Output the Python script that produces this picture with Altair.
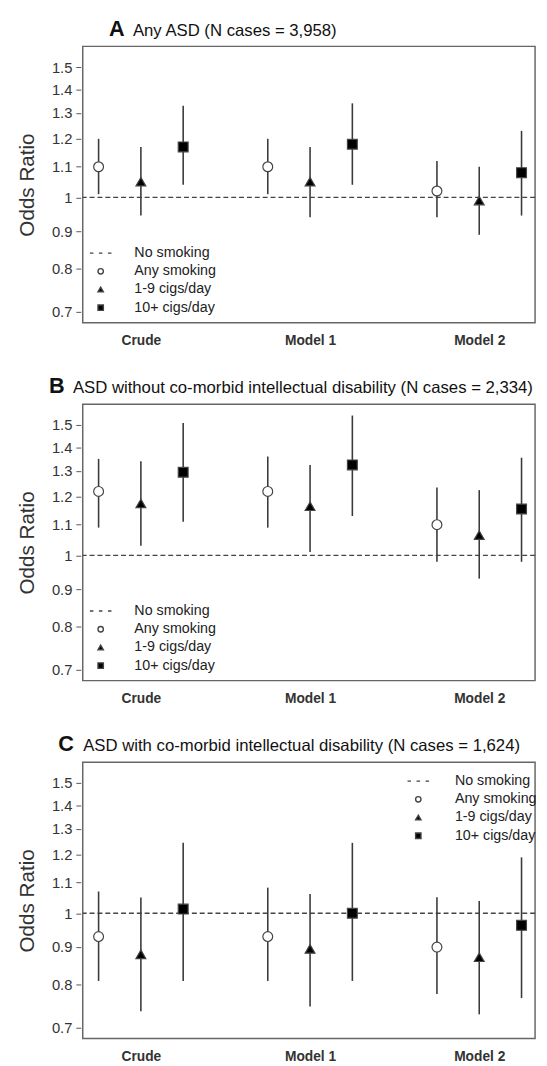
import altair as alt
import pandas as pd

models = ["Crude", "Model 1", "Model 2"]
series = ["No smoking", "Any smoking", "1-9 cigs/day", "10+ cigs/day"]
exposures = series[1:]
y_ticks = [0.7, 0.8, 0.9, 1.0, 1.1, 1.2, 1.3, 1.4, 1.5]
no_smoking_or = [1.0]

letters = ["A", "B", "C"]
titles = [
    "Any ASD (N cases = 3,958)",
    "ASD without co-morbid intellectual disability (N cases = 2,334)",
    "ASD with co-morbid intellectual disability (N cases = 1,624)",
]

# rows = models (Crude, Model 1, Model 2); columns = Any smoking, 1-9, 10+
a_or = [[1.10, 1.05, 1.17], [1.10, 1.05, 1.18], [1.02, 0.99, 1.08]]
a_lo = [[1.01, 0.945, 1.04], [1.01, 0.94, 1.04], [0.94, 0.89, 0.945]]
a_hi = [[1.20, 1.17, 1.33], [1.20, 1.17, 1.34], [1.12, 1.10, 1.23]]

b_or = [[1.22, 1.175, 1.295], [1.22, 1.165, 1.325], [1.10, 1.065, 1.155]]
b_lo = [[1.09, 1.03, 1.11], [1.09, 1.01, 1.13], [0.98, 0.93, 0.98]]
b_hi = [[1.35, 1.34, 1.51], [1.36, 1.325, 1.545], [1.235, 1.225, 1.355]]

c_or = [[0.93, 0.88, 1.013], [0.93, 0.895, 1.0], [0.90, 0.872, 0.963]]
c_lo = [[0.81, 0.737, 0.81], [0.81, 0.748, 0.81], [0.778, 0.73, 0.768]]
c_hi = [[1.07, 1.05, 1.245], [1.083, 1.062, 1.245], [1.051, 1.039, 1.19]]

FONT = "Liberation Sans"
W, H = 460, 281
GROUP_STEP = 4

x_scale = alt.Scale(domain=[-1.375, 9.32], nice=False, zero=False)
y_scale = alt.Scale(type="log", domain=[0.677, 1.6], nice=False, zero=False)
label_expr = "[" + ",".join("'%s'" % m for m in models) + "][round(datum.value/%d)]" % GROUP_STEP

shape_range = ["M-4,0H-2.7M-0.65,0H0.65M2.7,0H4", "circle", "triangle-up", "square"]
fill_range = ["transparent", "white", "black", "black"]


def table(or_, lo, hi):
    rows = []
    for mi, m in enumerate(models):
        for si, s in enumerate(exposures):
            rows.append({"model": m, "series": s, "pos": GROUP_STEP * mi + (si - 1),
                         "or": or_[mi][si], "lo": lo[mi][si], "hi": hi[mi][si]})
    return pd.DataFrame(rows)


def panel(letter, title, or_, lo, hi, letter_dx, title_dx, leg):
    df = table(or_, lo, hi)
    x = alt.X("pos:Q", scale=x_scale,
              axis=alt.Axis(values=[GROUP_STEP * i for i in range(len(models))],
                            labelExpr=label_expr, ticks=False, domain=False, grid=False,
                            labelFontWeight="bold", labelFontSize=14, labelPadding=11,
                            labelColor="#333", title=None))
    y_axis = alt.Axis(values=y_ticks, format=".1~f", grid=False, domain=False,
                      tickSize=5, tickColor="#555", offset=2, labelFontSize=15,
                      labelColor="#333", labelPadding=4, title="Odds Ratio",
                      titleFontSize=21, titleFontWeight="normal", titleColor="#333",
                      titlePadding=14)
    legend = alt.Legend(orient="none", legendX=leg[0], legendY=leg[1], title=None,
                        labelFontSize=14.5, labelColor="#222", labelOffset=leg[2],
                        symbolSize=30, rowPadding=3.5, padding=0, symbolStrokeWidth=1.4)

    ref = alt.Chart(pd.DataFrame({"ref": no_smoking_or})).mark_rule(
        strokeDash=[5, 3], color="#444", strokeWidth=1.3
    ).encode(y=alt.Y("ref:Q", scale=y_scale, axis=y_axis))

    bars = alt.Chart(df).mark_rule(color="#3a3a3a", strokeWidth=1.6).encode(
        x=x, y=alt.Y("lo:Q", scale=y_scale, axis=y_axis), y2="hi:Q")

    pts = alt.Chart(df).mark_point(size=100, opacity=1, stroke="#444", strokeWidth=1.2).encode(
        x=x,
        y=alt.Y("or:Q", scale=y_scale, axis=y_axis),
        shape=alt.Shape("series:N", scale=alt.Scale(domain=series, range=shape_range), legend=legend),
        fill=alt.Fill("series:N", scale=alt.Scale(domain=series, range=fill_range), legend=legend),
    )

    letter_txt = alt.Chart(pd.DataFrame({"t": [letter]})).mark_text(
        align="left", baseline="alphabetic", fontSize=22, fontWeight="bold", font=FONT, color="#111"
    ).encode(text="t:N", x=alt.value(letter_dx), y=alt.value(-11))
    title_txt = alt.Chart(pd.DataFrame({"t": [title]})).mark_text(
        align="left", baseline="alphabetic", fontSize=17, font=FONT, color="#111"
    ).encode(text="t:N", x=alt.value(title_dx), y=alt.value(-11))

    return alt.layer(ref, bars, pts, letter_txt, title_txt).properties(width=W, height=H)


pa = panel(letters[0], titles[0], a_or, a_lo, a_hi, 26.7, 51, (11, 203, 27))
pb = panel(letters[1], titles[1], b_or, b_lo, b_hi, -34.4, -10, (11, 203, 27))
pc = panel(letters[2], titles[2], c_or, c_lo, c_hi, -25, 0.5, (334, 12, 30))

chart = alt.vconcat(pa, pb, pc, spacing=27).resolve_scale(
    shape="independent", fill="independent"
).properties(
    padding={"left": 8, "top": 0, "right": 1, "bottom": 0}
).configure(font=FONT).configure_view(stroke="#666", strokeWidth=1.5)

chart.save("out.html", embed_options={"renderer": "svg", "actions": False})
